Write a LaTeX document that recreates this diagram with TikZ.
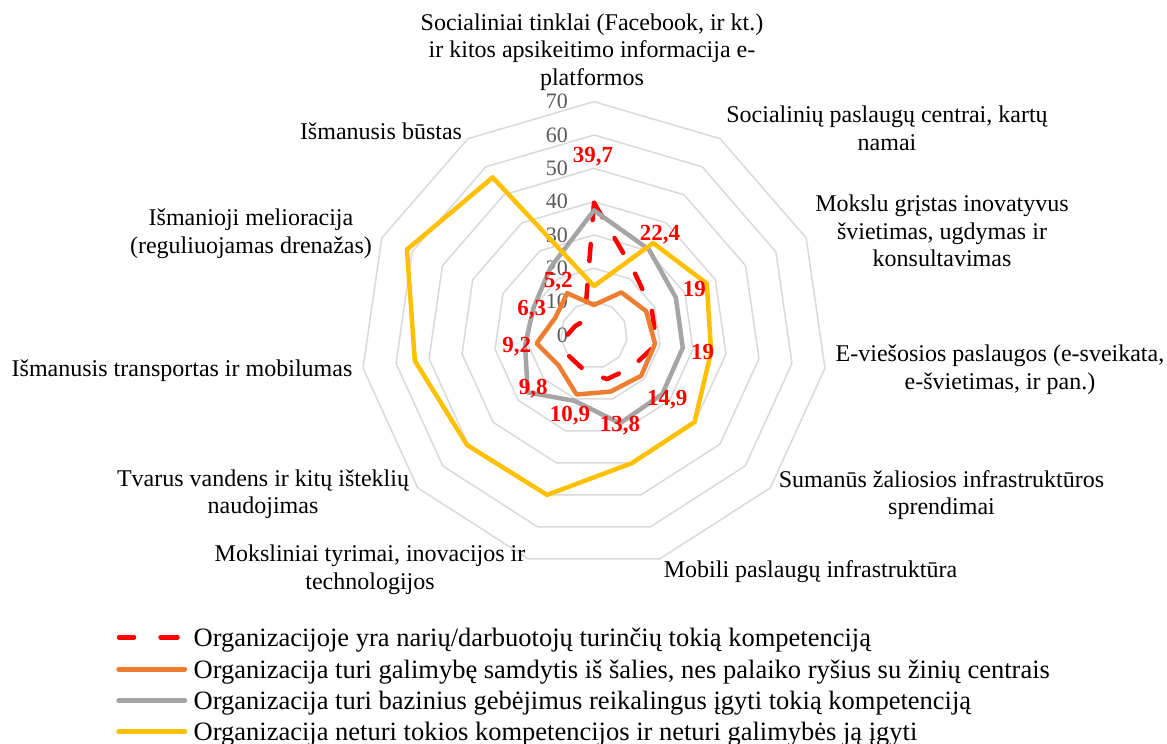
\documentclass[tikz,border=0pt]{standalone}
\usepackage{fontspec}
\setmainfont{Liberation Serif}
\definecolor{cred}{HTML}{FF0000}
\definecolor{corange}{HTML}{ED7D31}
\definecolor{cgray}{HTML}{A5A5A5}
\definecolor{cyellow}{HTML}{FFC000}
\definecolor{cgrid}{HTML}{D9D9D9}
\definecolor{ctick}{HTML}{595959}
\tikzset{
  series/.style={line width=4.5pt, line join=round, line cap=round},
  reddash/.style={series, draw=cred, dash pattern=on 17pt off 24pt},
  catlabel/.style={font=\fontsize{24}{27.6}\selectfont, align=center, inner sep=0pt},
  ticklabel/.style={font=\fontsize{22}{26}\selectfont, text=ctick, anchor=east, inner sep=0pt},
  datalabel/.style={font=\fontsize{23}{26}\selectfont\bfseries, text=cred, inner sep=0pt},
  legtext/.style={font=\fontsize{26.5}{30}\selectfont, anchor=base west, inner sep=0pt},
  gridline/.style={draw=cgrid, line width=1.5pt, line join=round}
}
\begin{document}
\begin{tikzpicture}[x=1pt,y=-1pt]
\useasboundingbox (0,0) rectangle (1167,744);
\begin{scope}[shift={(594,335)}]
  % grid rings
  \foreach \r in {1,...,7} {
    \draw[gridline] (-90:{\r*33.333}) \foreach \k in {1,...,10} { -- ({\k*360/11-90}:{\r*33.333}) } -- cycle;
  }
  % tick labels
  \foreach \r in {0,...,7} {
    \pgfmathtruncatemacro{\lab}{\r*10}
    \node[ticklabel] (tick\r) at (-26,{-\r*33.333}) {\lab};
  }
  % series
  \draw[reddash] (-90:{39.7*10/3}) \foreach \v [count=\k] in {22.4,19,19,14.9,13.8,10.9,9.8,9.2,6.3,5.2} { -- ({\k*360/11-90}:{\v*10/3}) } -- cycle;
  \draw[series, draw=corange] (-90:{9*10/3}) \foreach \v [count=\k] in {15.2,17.2,18.5,18.7,17.7,18.6,14,17.4,12.7,14.9} { -- ({\k*360/11-90}:{\v*10/3}) } -- cycle;
  \draw[series, draw=cgray] (-90:{37.4*10/3}) \foreach \v [count=\k] in {30.5,27,26.9,27.1,27.6,20.6,26.3,20.9,19.9,24.1} { -- ({\k*360/11-90}:{\v*10/3}) } -- cycle;
  \draw[series, draw=cyellow] (-90:{14.7*10/3}) \foreach \v [count=\k] in {32.8,37.2,35.5,39.9,40.1,50,50.4,54.3,61.7,56.2} { -- ({\k*360/11-90}:{\v*10/3}) } -- cycle;
\end{scope}
% data labels
\node[datalabel] (d0) at (593,157) {39,7};
\node[datalabel] (d1) at (660,235) {22,4};
\node[datalabel] (d2) at (694.3,289.3) {19};
\node[datalabel] (d3) at (702.7,351.7) {19};
\node[datalabel] (d4) at (667.3,400) {14,9};
\node[datalabel] (d5) at (620,426) {13,8};
\node[datalabel] (d6) at (570,416) {10,9};
\node[datalabel] (d7) at (533.3,388.3) {9,8};
\node[datalabel] (d8) at (516.7,346.7) {9,2};
\node[datalabel] (d9) at (531.7,309.3) {6,3};
\node[datalabel] (d10) at (558.3,281.7) {5,2};
% category labels
\node[catlabel] (c0) at (592,52) {Socialiniai tinklai (Facebook, ir kt.)\\ir kitos apsikeitimo informacija e-\\platformos};
\node[catlabel] (c1) at (887,128) {Socialinių paslaugų centrai, kartų\\namai};
\node[catlabel] (c2) at (942,231) {Mokslu grįstas inovatyvus\\švietimas, ugdymas ir\\konsultavimas};
\node[catlabel] (c3) at (1000,370) {E-viešosios paslaugos (e-sveikata,\\e-švietimas, ir pan.)};
\node[catlabel] (c4) at (941.5,495) {Sumanūs žaliosios infrastruktūros\\sprendimai};
\node[catlabel] (c5) at (810.5,572) {Mobili paslaugų infrastruktūra};
\node[catlabel] (c6) at (370,569.5) {Moksliniai tyrimai, inovacijos ir\\technologijos};
\node[catlabel] (c7) at (263,494) {Tvarus vandens ir kitų išteklių\\naudojimas};
\node[catlabel] (c8) at (182,371) {Išmanusis transportas ir mobilumas};
\node[catlabel] (c9) at (251,234) {Išmanioji melioracija\\(reguliuojamas drenažas)};
\node[catlabel] (c10) at (381,131) {Išmanusis būstas};
% legend
\draw[series, draw=cred] (119,637.3) -- (134,637.3) (160.5,637.3) -- (177.5,637.3);
\draw[series, draw=corange] (118.5,669.3) -- (185,669.3);
\draw[series, draw=cgray] (118.5,700.7) -- (185,700.7);
\draw[series, draw=cyellow] (118.5,731.7) -- (185,731.7);
\node[legtext] (l1) at (193.5,646.7) {Organizacijoje yra narių/darbuotojų turinčių tokią kompetenciją};
\node[legtext] (l2) at (193.5,678.3) {Organizacija turi galimybę samdytis iš šalies, nes palaiko ryšius su žinių centrais};
\node[legtext] (l3) at (193.5,709.3) {Organizacija turi bazinius gebėjimus reikalingus įgyti tokią kompetenciją};
\node[legtext] (l4) at (193.5,740.7) {Organizacija neturi tokios kompetencijos ir neturi galimybės ją įgyti};
\end{tikzpicture}
\end{document}
